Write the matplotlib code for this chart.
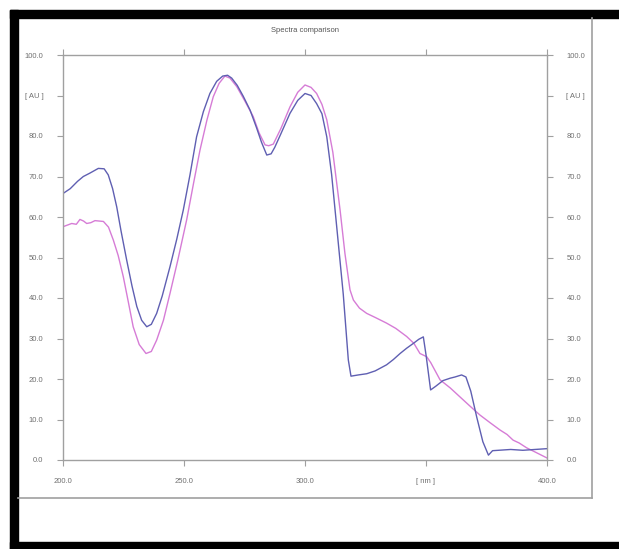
import numpy as np
import matplotlib
matplotlib.use("Agg")
import matplotlib.pyplot as plt
from matplotlib.patches import Rectangle
from matplotlib.lines import Line2D

plt.rcParams['font.family'] = ['Liberation Sans', 'DejaVu Sans']

# blue spectrum (nm, AU)
blue_nm = [200, 203, 206, 208.4, 211, 214.6, 217, 218.7, 220.5, 222.2, 224, 226.3, 228.5,
           230.5, 232.5, 234.6, 236.5, 238.7, 241, 244.2, 247, 249.7, 252.5, 255.2, 258,
           260.7, 263.5, 266, 268, 269.7, 272, 274.5, 277.3, 280, 282, 284.2, 286, 287.5,
           290, 293.8, 297, 300, 302.5, 304.8, 307, 309, 311, 313.1, 315.8, 317.9, 319,
           322, 325.5, 329, 333.7, 336.5, 339.3, 342, 344.8, 347, 348.9, 350, 351.9, 354,
           357, 360, 362, 364.7, 366.5, 368.5, 371, 373.5, 375.8, 377.5, 380, 385, 390,
           395, 400]
blue_au = [65.8, 67.0, 68.8, 70.0, 70.8, 72.0, 71.9, 70.4, 67.0, 62.5, 56.5, 49.4, 43.0,
           37.9, 34.5, 32.9, 33.5, 36.2, 40.5, 47.7, 54.5, 61.7, 70.5, 79.8, 86.0,
           90.5, 93.5, 94.8, 95.0, 94.3, 92.5, 89.8, 86.4, 82.0, 78.5, 75.3, 75.6, 77.2,
           80.5, 85.6, 88.8, 90.5, 90.0, 88.0, 85.5, 79.8, 70.5, 57.6, 41.0, 24.7, 20.7,
           21.0, 21.3, 22.0, 23.5, 24.8, 26.3, 27.6, 28.8, 29.8, 30.4, 26.0, 17.3, 18.2,
           19.6, 20.2, 20.5, 21.0, 20.5, 17.0, 10.5, 4.5, 1.2, 2.3, 2.4, 2.6, 2.4, 2.6, 2.8]

# magenta spectrum (nm, AU)
pink_nm = [200, 203.6, 205.5, 207, 208.5, 209.8, 211.5, 213.2, 215, 216.7, 218.8, 220.8,
           222.8, 224.9, 227, 229, 231.5, 234.3, 236.5, 238.7, 241.5, 244.2, 247.5, 251.1,
           254, 256.6, 259.5, 262.1, 264.5, 266.9, 269, 271.8, 275, 278.6, 281, 283.5,
           285, 286.9, 290, 293.8, 297, 300, 302.5, 304.8, 307, 309, 311.5, 314.5, 316.5,
           318.6, 320, 322.5, 325.5, 329, 333.7, 337.5, 342, 345, 347.5, 350.3, 352, 355.8,
           360, 364, 368, 372.3, 376.5, 380.6, 383.5, 386, 388.5, 391.6, 394, 397, 400]
pink_au = [57.6, 58.4, 58.2, 59.4, 59.0, 58.4, 58.6, 59.1, 59.0, 58.9, 57.5, 54.3,
           50.5, 45.3, 39.0, 32.9, 28.5, 26.3, 26.8, 29.6, 34.5, 41.1, 49.5, 59.3,
           68.5, 76.5, 84.0, 89.7, 93.0, 94.8, 94.3, 92.2, 88.8, 84.8, 80.8, 77.8,
           77.6, 78.0, 81.8, 87.2, 90.8, 92.6, 92.0, 90.5, 87.8, 84.0, 76.0, 61.7, 51.0,
           42.0, 39.5, 37.5, 36.2, 35.2, 33.8, 32.5, 30.5, 28.8, 26.3, 25.5, 24.0, 19.8,
           17.8, 15.6, 13.4, 11.1, 9.2, 7.4, 6.3, 4.9, 4.2, 3.0, 2.3, 1.4, 0.5]

x_ticks = [200, 250, 300, 350, 400]
x_labels = ['200.0', '250.0', '300.0', '[ nm ]', '400.0']
y_ticks = [0, 10, 20, 30, 40, 50, 60, 70, 80, 90, 100]
y_labels = ['0.0', '10.0', '20.0', '30.0', '40.0', '50.0', '60.0', '70.0', '80.0', '[ AU ]', '100.0']

W, H = 619, 549
fig = plt.figure(figsize=(W / 100, H / 100), dpi=100)

def fx(px):
    return px / W

def fy(py):
    return 1 - py / H

# black document frame (open on the right)
fig.patches.append(Rectangle((fx(10), fy(549)), fx(8), 549 / H - 10 / H,
                             transform=fig.transFigure, color='black', zorder=0))
fig.patches.append(Rectangle((fx(10), fy(18)), 1 - fx(10), 8 / H,
                             transform=fig.transFigure, color='black', zorder=0))
fig.patches.append(Rectangle((fx(10), fy(549)), 1 - fx(10), 7 / H,
                             transform=fig.transFigure, color='black', zorder=0))
# gray chart panel border
fig.lines.append(Line2D([fx(592), fx(592)], [fy(18), fy(498)], transform=fig.transFigure,
                        color='#a0a0a0', lw=1.2))
fig.lines.append(Line2D([fx(18), fx(592)], [fy(498), fy(498)], transform=fig.transFigure,
                        color='#a0a0a0', lw=1.2))

ax = fig.add_axes([fx(63), fy(460), fx(547) - fx(63), fy(55) - fy(460)])
ax.plot(pink_nm, pink_au, color='#d67cd6', lw=1.0)
ax.plot(blue_nm, blue_au, color='#5f5fb2', lw=1.0)

ax.set_xlim(200, 400)
ax.set_ylim(0, 100)
ax.set_xticks(x_ticks)
ax.set_xticklabels(x_labels)
ax.set_yticks(y_ticks)
ax.set_yticklabels(y_labels)
ax.tick_params(axis='both', which='both', direction='out', length=4, width=0.8,
               color='#a0a0a0', labelsize=5.5, labelcolor='#707070',
               top=True, right=True, labelright=True)
ax.tick_params(axis='y', pad=10)
ax.tick_params(axis='x', pad=9)
for s in ax.spines.values():
    s.set_color('#a0a0a0')
    s.set_linewidth(1.0)

fig.text(fx(305), fy(31), 'Spectra comparison', ha='center', va='center',
         fontsize=5.5, color='#555555')

fig.savefig('out.png', dpi=100)
